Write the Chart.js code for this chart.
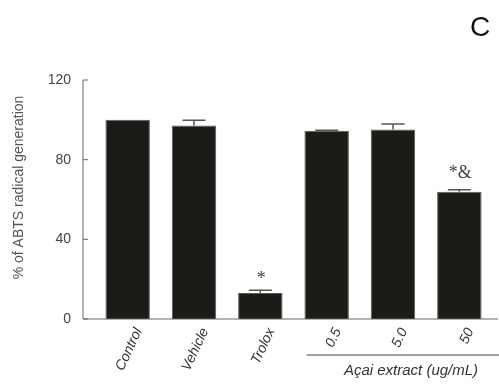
<!DOCTYPE html>
<html lang="en">
<head>
<meta charset="UTF-8">
<title>ABTS radical generation</title>
<script src="https://cdn.jsdelivr.net/npm/chart.js"></script>
<style>
  html, body { margin: 0; padding: 0; background: #fff; }
</style>
</head>
<body>
<canvas id="barChart" width="499" height="385"></canvas>
<script>
// data
const labels = ['Control', 'Vehicle', 'Trolox', '0.5', '5.0', '50'];
const values = [100, 97.2, 13, 94.5, 95.2, 63.9];
const errors = [0, 2.6, 1.4, 0.3, 2.7, 1.0];
const marks = ['', '', '*', '', '', '*&'];
const yTicks = [0, 40, 80, 120];
const yTitle = '% of ABTS radical generation';
const groupLabel = 'Açai extract (ug/mL)';
const groupStart = 3;   // first bar under the extract line
const panelLetter = 'C';

const sans = "'Liberation Sans', Arial, sans-serif";

// axes, rotated labels, error bars, marks and the group line
const extras = {
  id: 'extras',
  afterDatasetsDraw(chart) {
    const { ctx, chartArea, scales: { x, y } } = chart;
    const meta = chart.getDatasetMeta(0);
    const axisX = chartArea.left - 11.5;
    const y0 = y.getPixelForValue(yTicks[0]);

    ctx.save();
    ctx.strokeStyle = '#666';
    ctx.lineWidth = 1;
    ctx.beginPath();
    ctx.moveTo(axisX, y.getPixelForValue(yTicks[yTicks.length - 1]));
    ctx.lineTo(axisX, y0);
    ctx.lineTo(chart.width - 1, y0);
    yTicks.forEach(v => {
      const py = y.getPixelForValue(v);
      ctx.moveTo(axisX, py);
      ctx.lineTo(axisX + 5, py);
    });
    ctx.stroke();

    // y title, a bit above the plot centre like the original
    ctx.fillStyle = '#555';
    ctx.font = '14px ' + sans;
    ctx.textAlign = 'center';
    ctx.textBaseline = 'middle';
    ctx.save();
    ctx.translate(19, (chartArea.top + chartArea.bottom) / 2 - 12);
    ctx.rotate(-Math.PI / 2);
    ctx.fillText(yTitle, 0, 0);
    ctx.restore();

    // category labels, rotated 65 deg, ending just right of each bar centre
    ctx.fillStyle = '#333';
    ctx.font = 'italic 14px ' + sans;
    ctx.textAlign = 'right';
    meta.data.forEach((bar, i) => {
      ctx.save();
      ctx.translate(bar.x + 11, chartArea.bottom + 10);
      ctx.rotate(-65 * Math.PI / 180);
      ctx.fillText(labels[i], 0, 0);
      ctx.restore();
    });

    // error bars (upper half only)
    ctx.strokeStyle = '#555';
    ctx.lineWidth = 1.5;
    meta.data.forEach((bar, i) => {
      if (!errors[i]) return;
      const top = y.getPixelForValue(values[i] + errors[i]);
      ctx.beginPath();
      ctx.moveTo(bar.x, y.getPixelForValue(values[i]));
      ctx.lineTo(bar.x, top);
      ctx.moveTo(bar.x - 11.5, top);
      ctx.lineTo(bar.x + 11.5, top);
      ctx.stroke();
    });

    // significance marks
    ctx.fillStyle = '#444';
    ctx.font = "18px 'Liberation Serif', 'Times New Roman', serif";
    ctx.textAlign = 'center';
    ctx.textBaseline = 'alphabetic';
    meta.data.forEach((bar, i) => {
      if (!marks[i]) return;
      const top = y.getPixelForValue(values[i] + errors[i]);
      ctx.fillText(marks[i], bar.x + 1, top - (marks[i].length > 1 ? 12 : 6));
    });

    // extract group line + label
    const lineY = chartArea.bottom + 36;
    const lineX = x.getPixelForValue(groupStart) - 20;
    ctx.strokeStyle = '#444';
    ctx.lineWidth = 1.2;
    ctx.beginPath();
    ctx.moveTo(lineX, lineY);
    ctx.lineTo(chart.width, lineY);
    ctx.stroke();
    ctx.fillStyle = '#333';
    ctx.font = 'italic 15px ' + sans;
    ctx.textBaseline = 'middle';
    ctx.fillText(groupLabel, x.getPixelForValue(groupStart + 1) + 18, lineY + 16);

    // panel letter
    ctx.fillStyle = '#111';
    ctx.font = '28px ' + sans;
    ctx.fillText(panelLetter, 480, 28);
    ctx.restore();
  }
};

new Chart(document.getElementById('barChart'), {
  type: 'bar',
  data: {
    labels: labels,
    datasets: [{
      data: values,
      backgroundColor: '#1c1b18',
      borderColor: '#5a5a5a',
      borderWidth: 1,
      barPercentage: 0.67,
      categoryPercentage: 1
    }]
  },
  options: {
    responsive: false,
    animation: false,
    layout: { padding: { top: 80, right: 6.5, bottom: 0, left: 4 } },
    plugins: {
      legend: { display: false },
      tooltip: { enabled: false }
    },
    scales: {
      x: {
        grid: { display: false },
        border: { display: false },
        ticks: { display: false },
        afterFit: s => { s.height = 66; }
      },
      y: {
        min: 0,
        max: 120,
        grid: { display: false },
        border: { display: false },
        afterFit: s => { s.width = 90.5; },
        ticks: {
          stepSize: 40,
          padding: 15.5,
          color: '#444',
          font: { family: sans, size: 14 }
        }
      }
    }
  },
  plugins: [extras]
});
</script>
</body>
</html>
